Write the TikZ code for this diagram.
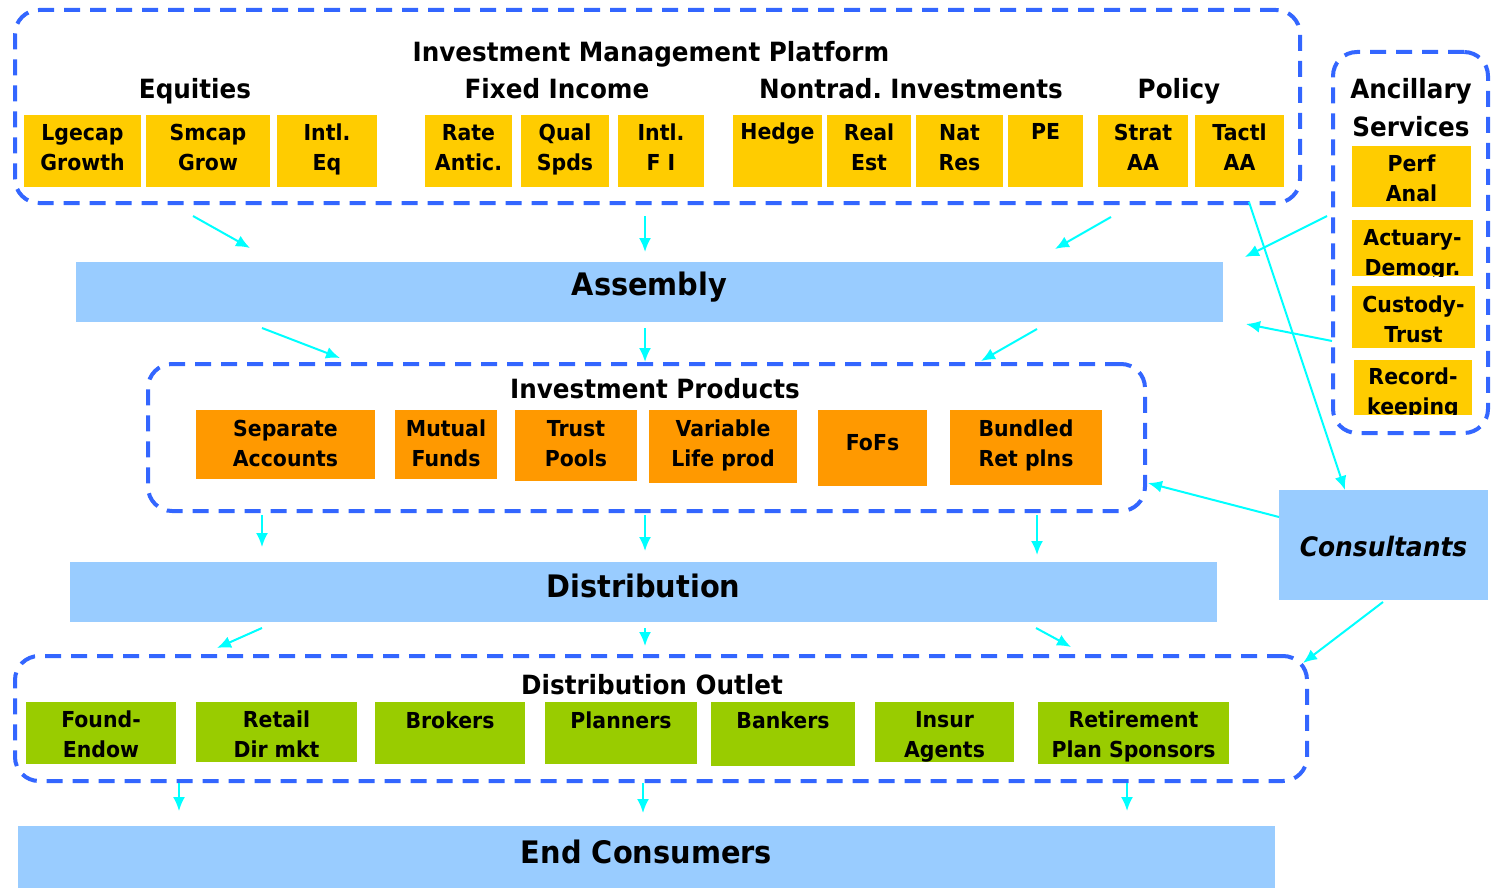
\documentclass[tikz,border=0pt]{standalone}
\usepackage{fontspec}
\setmainfont{DejaVu Sans}[FakeStretch=0.93]
\usepackage{tikz}
\usetikzlibrary{arrows.meta,fit}
\definecolor{dashblue}{RGB}{51,102,255}
\definecolor{goldbox}{RGB}{255,204,0}
\definecolor{orangebox}{RGB}{255,153,0}
\definecolor{greenbox}{RGB}{153,204,0}
\definecolor{barblue}{RGB}{153,204,255}
\definecolor{flowcyan}{RGB}{0,255,255}

\begin{document}
\frenchspacing
\begin{tikzpicture}
	[x=0.5pt, y=0.5pt,
	% left/top/right/bottom/last baseline, in pixels from the top left corner
	box/.style args={#1/#2/#3/#4/#5}{inner sep=0pt,
		minimum width={(#3-#1)*0.5pt}, minimum height={(#4-#2)*0.5pt},
		at={({(#1+#3)/2},{-(#2+#4)/2})},
		text height={#5*0.5pt}, text depth={(#4-#2-#5)*0.5pt}},
	cell/.style={align=center, font=\bfseries\fontsize{11}{15}\selectfont},
	gold box/.style={cell, fill=goldbox},
	orange box/.style={cell, fill=orangebox},
	green box/.style={cell, fill=greenbox},
	% text cut off at the box's lower edge
	cut text/.style={path picture={\node[cell, inner sep=0pt, anchor=base]
		at ([yshift=-27.5pt]path picture bounding box.north) {#1};}},
	bar/.style={fill=barblue, font=\bfseries\fontsize{15.5}{18}\selectfont},
	group/.style={draw=dashblue, line width=2pt, dash pattern=on 8pt off 5pt, rounded corners=12pt, inner sep=0pt},
	title/.style={anchor=base, inner sep=0pt, font=\bfseries\fontsize{13.25}{19}\selectfont},
	flow/.style={draw=flowcyan, line width=1pt, -{Latex[length=7pt,width=6pt]}}]
	\useasboundingbox (0,0) rectangle (1499,-888);
	% dashed groups
	\node[group, fit={(15,-10) (1300,-203)}]   (platform) {};
	\node[group, fit={(1333,-52) (1488,-433)}] (ancillary) {};
	\node[group, fit={(148,-364) (1145,-511)}] (products) {};
	\node[group, fit={(15,-656) (1307,-781)}]  (outlet) {};
	% titles
	\node[title] (platform title) at (651,-62) {Investment Management Platform};
	\node[title] (equities)  at (195,-99)  {Equities};
	\node[title] (fixed)     at (557,-99)  {Fixed Income};
	\node[title] (nontrad)   at (911,-99)  {Nontrad. Investments};
	\node[title] (policy)    at (1179,-99) {Policy};
	\node[title] (anc title) at (1411,-99) {Ancillary};
	\node[title] (serv title) at (1411,-137) {Services};
	\node[title] (products title) at (655,-398) {Investment Products};
	\node[title] (outlet title) at (652,-694) {Distribution Outlet};
	% platform
	\node[gold box, box=24/115/141/187/55]    (lgecap)  {Lgecap\\Growth};
	\node[gold box, box=146/115/270/187/55]   (smcap)   {Smcap\\Grow};
	\node[gold box, box=277/115/377/187/55]   (intleq)  {Intl.\\Eq};
	\node[gold box, box=425/115/512/187/55]   (rate)    {Rate\\Antic.};
	\node[gold box, box=521/115/609/187/55]   (qual)    {Qual\\Spds};
	\node[gold box, box=618/115/704/187/55]   (intlfi)  {Intl.\\F I};
	\node[gold box, box=733/115/822/187/25]   (hedge)   {Hedge};
	\node[gold box, box=827/115/911/187/55]   (realest) {Real\\Est};
	\node[gold box, box=916/115/1003/187/55]  (natres)  {Nat\\Res};
	\node[gold box, box=1008/115/1083/187/25] (pe)      {PE};
	\node[gold box, box=1098/115/1188/187/55] (strat)   {Strat\\AA};
	\node[gold box, box=1195/115/1284/187/55] (tactl)   {Tactl\\AA};
	% ancillary
	\node[gold box, box=1352/146/1471/207/55] (perf)    {Perf\\Anal};
	\node[gold box, box=1352/220/1473/276/55, cut text={Actuary-\\Demogr.}] (actuary) {};
	\node[gold box, box=1352/286/1475/348/56] (custody) {Custody-\\Trust};
	\node[gold box, box=1354/360/1472/414/55, cut text={Record-\\keeping}] (record) {};
	% products
	\node[orange box, box=196/410/375/479/56]  (separate) {Separate\\Accounts};
	\node[orange box, box=395/410/497/479/56]  (mutual)   {Mutual\\Funds};
	\node[orange box, box=515/410/637/481/56]  (trust)    {Trust\\Pools};
	\node[orange box, box=649/410/797/483/56]  (variable) {Variable\\Life prod};
	\node[orange box, box=818/410/927/486/40]  (fofs)     {FoFs};
	\node[orange box, box=950/410/1102/485/56] (bundled)  {Bundled\\Ret plns};
	% outlets
	\node[green box, box=26/702/176/764/55]    (found)    {Found-\\Endow};
	\node[green box, box=196/702/357/762/55]   (retail)   {Retail\\Dir mkt};
	\node[green box, box=375/702/525/764/26]   (brokers)  {Brokers};
	\node[green box, box=545/702/697/764/26]   (planners) {Planners};
	\node[green box, box=711/702/855/766/26]   (bankers)  {Bankers};
	\node[green box, box=875/702/1014/762/55]  (insur)    {Insur\\Agents};
	\node[green box, box=1038/702/1229/764/55] (sponsors) {Retirement\\Plan Sponsors};
	% bars
	\node[bar, box=76/262/1223/322/33]   (assembly)     {Assembly};
	\node[bar, box=70/562/1217/622/35]   (distribution) {Distribution};
	\node[bar, box=18/826/1275/888/37]   (consumers)    {End Consumers};
	\node[bar, box=1279/490/1488/600/66, font=\bfseries\itshape\fontsize{13.4}{16}\selectfont] (consultants) {Consultants};
	% arrow ends
	\coordinate (p1) at (193,-216);   \coordinate (q1) at (250,-248);
	\coordinate (p2) at (645,-216);   \coordinate (q2) at (645,-252);
	\coordinate (p3) at (1111,-217);  \coordinate (q3) at (1055,-249);
	\coordinate (p4) at (262,-328);   \coordinate (q4) at (340,-358);
	\coordinate (p5) at (645,-328);   \coordinate (q5) at (645,-362);
	\coordinate (p6) at (1037,-329);  \coordinate (q6) at (981,-361);
	\coordinate (p7) at (262,-515);   \coordinate (q7) at (262,-547);
	\coordinate (p8) at (645,-515);   \coordinate (q8) at (645,-551);
	\coordinate (p9) at (1037,-515);  \coordinate (q9) at (1037,-555);
	\coordinate (p10) at (262,-628);  \coordinate (q10) at (217,-648);
	\coordinate (p11) at (645,-628);  \coordinate (q11) at (645,-646);
	\coordinate (p12) at (1036,-628); \coordinate (q12) at (1071,-647);
	\coordinate (p13) at (179,-783);  \coordinate (q13) at (179,-811);
	\coordinate (p14) at (643,-783);  \coordinate (q14) at (643,-813);
	\coordinate (p15) at (1127,-783); \coordinate (q15) at (1127,-811);
	\coordinate (p16) at (1327,-216); \coordinate (q16) at (1245,-257);
	\coordinate (p17) at (1332,-341); \coordinate (q17) at (1246,-324);
	\coordinate (p18) at (1249,-202); \coordinate (q18) at (1345,-490);
	\coordinate (p19) at (1279,-517); \coordinate (q19) at (1148,-483);
	\coordinate (p20) at (1383,-602); \coordinate (q20) at (1303,-663);
	\foreach \i in {1,...,20}
		\draw[flow] (p\i) -- (q\i);
\end{tikzpicture}
\end{document}
